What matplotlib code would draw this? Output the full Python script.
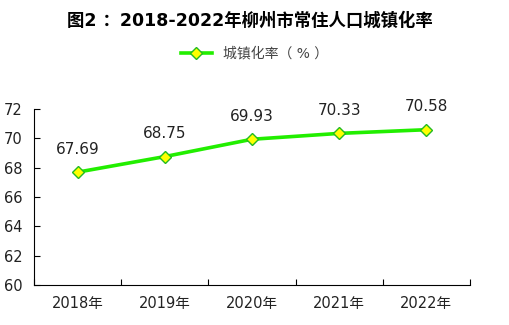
import matplotlib.pyplot as plt

plt.rcParams['font.family'] = ['DejaVu Sans', 'Noto Sans CJK SC']

years = ['2018年', '2019年', '2020年', '2021年', '2022年']
rate = [67.69, 68.75, 69.93, 70.33, 70.58]

fig = plt.figure(figsize=(5.09, 3.25), dpi=100)
ax = fig.add_axes([0.067, 0.123, 0.856, 0.542])

x = list(range(len(years)))
ax.plot(x, rate, color='#22ee00', lw=2.6, marker='D', ms=6,
        markerfacecolor='#ffff00', markeredgecolor='#22bb22', markeredgewidth=1,
        label='城镇化率（ % ）')
for xi, v in zip(x, rate):
    ax.annotate(f'{v:.2f}', (xi, v), xytext=(0, 11), textcoords='offset points',
                ha='center', va='bottom', fontsize=11, color='#222222')

ax.set_xlim(-0.5, 4.5)
ax.set_ylim(60, 72)
ax.set_yticks(range(60, 73, 2))
ax.set_xticks([i - 0.5 for i in range(6)])
ax.set_xticklabels([])
ax.set_xticks(x, minor=True)
ax.set_xticklabels(years, minor=True, fontsize=10.5, color='#222222')
ax.tick_params(axis='x', which='major', direction='in', length=4)
ax.tick_params(axis='x', which='minor', length=0, pad=8)
ax.tick_params(axis='y', direction='in', length=4, labelsize=10.5, labelcolor='#222222', pad=8)
for s in ['top', 'right']:
    ax.spines[s].set_visible(False)

fig.text(0.49, 0.935, '图2 ：2018-2022年柳州市常住人口城镇化率', ha='center', va='center',
         fontsize=12.5, fontweight='bold', family=['DejaVu Sans', 'Noto Sans CJK SC'])
leg = fig.legend(loc='center', bbox_to_anchor=(0.5, 0.835), frameon=False,
                 handlelength=2.2, prop={'size': 10})
for t in leg.get_texts():
    t.set_color('#444444')

fig.savefig('out.png', dpi=100)
